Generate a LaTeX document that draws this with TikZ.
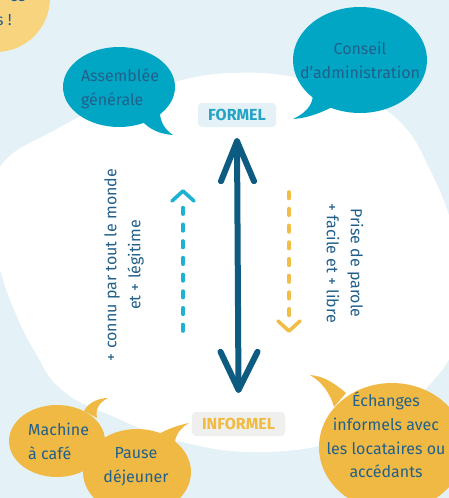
\documentclass[tikz,border=0pt]{standalone}
\usepackage{fontspec}
\setmainfont{Fira Sans}
\usetikzlibrary{shapes.geometric,calc}
\definecolor{bgblue}{HTML}{E4F1F6}
\definecolor{bubteal}{HTML}{02A6C5}
\definecolor{bubyellow}{HTML}{F0B944}
\definecolor{paleyellow}{HTML}{F9D47F}
\definecolor{darkarrow}{HTML}{0D5B80}
\definecolor{tealarrow}{HTML}{1EB2D2}
\definecolor{yelarrow}{HTML}{F2BD47}
\definecolor{txtblue}{HTML}{21608A}
\definecolor{formelbg}{HTML}{E4F1F6}
\definecolor{formeltxt}{HTML}{23A3C6}
\definecolor{informelbg}{HTML}{EFEFEE}
\definecolor{informeltxt}{HTML}{F1BA40}
\begin{document}
\begin{tikzpicture}[x=1pt,y=-1pt,
  bubshape/.style={ellipse, inner sep=0pt},
  bubtext/.style={inner sep=0pt, text=txtblue, font=\fontsize{16}{24}\selectfont},
  tag/.style={rounded corners=4pt, inner sep=0pt, minimum height=24pt, font=\bfseries\fontsize{16}{16}\selectfont},
  mainarrow/.style={draw=darkarrow, line width=6pt, line cap=round, line join=round},
  tealarr/.style={draw=tealarrow, line width=3.6pt, line cap=round, line join=round},
  yelarr/.style={draw=yelarrow, line width=3.6pt, line cap=round, line join=round},
  dashpat/.style={dash pattern=on 6.5pt off 10.2pt}]
\useasboundingbox (0,0) rectangle (449,498);
\clip (0,0) rectangle (449,498);
\fill[bgblue] (0,0) rectangle (449,498);
% top-left pale yellow circle
\fill[paleyellow] (-4,-2) circle[radius=54pt];
\node[bubtext, anchor=base east] (cornertop) at (26,1) {es};
\node[bubtext, anchor=base east] (cornerbot) at (12,25) {s !};
% white blob
\fill[white] plot[smooth cycle, tension=0.75] coordinates {
  (-14,215) (2,164) (55,130) (110,103) (170,83) (232,73) (300,78) (360,97)
  (402,124) (430,170) (452,225) (466,290) (455,345) (432,382) (398,410)
  (340,440) (262,452) (182,442) (112,416) (62,390) (34,350) (15,312) (0,270)};
% labels
\node[tag, fill=formelbg, text=formeltxt, minimum width=78pt] (formel) at (237,115) {FORMEL};
\node[tag, fill=informelbg, text=informeltxt, minimum width=93pt] (informel) at (238.5,424) {INFORMEL};
% main double arrow
\coordinate (mtop) at ($(formel.south)+(0,14)$);
\coordinate (mbot) at ($(informel.north)+(0,-22)$);
\draw[mainarrow] (mtop) -- (mbot);
\draw[mainarrow] ($(mtop)+(-16,40)$) -- (mtop) -- ($(mtop)+(17,40)$);
\draw[mainarrow] ($(mbot)+(-18,-38)$) -- (mbot) -- ($(mbot)+(19,-38)$);
% teal dashed arrow (up)
\coordinate (tbot) at (183,331);
\coordinate (ttop) at (183,191);
\draw[tealarr, dashpat] (tbot) -- ($(ttop)+(0,12)$);
\draw[tealarr] ($(ttop)+(-11,10)$) -- (ttop) -- ($(ttop)+(11,10)$);
% yellow dashed arrow (down)
\coordinate (ytop) at (289,192);
\coordinate (ybot) at (289,331);
\draw[yelarr, dashpat] (ytop) -- ($(ybot)+(0,-12)$);
\draw[yelarr] ($(ybot)+(-11,-10)$) -- (ybot) -- ($(ybot)+(11,-10)$);
% rotated texts
\node[bubtext, rotate=90, align=center] (lefttxt) at (124,265) {+ connu par tout le monde\\et + légitime};
\node[bubtext, rotate=-90, align=center] (righttxt) at (345,263) {Prise de parole\\+ facile et + libre};
% teal bubbles
\node[bubshape, fill=bubteal, minimum width=112pt, minimum height=80pt] (agshape) at (119,87) {};
\fill[bubteal] (141,120) .. controls (150,130) and (160,134) .. (173,135)
  .. controls (164,129) and (160,121) .. (160,112) -- cycle;
\node[bubtext, align=left] (agtext) at (120,89) {Assemblée\\générale};
\node[bubshape, fill=bubteal, minimum width=134pt, minimum height=106pt] (cashape) at (360,60) {};
\fill[bubteal] (313,94) .. controls (313,106) and (304,114) .. (293,119)
  .. controls (308,118) and (321,113) .. (336,105) -- cycle;
\node[bubtext, align=center] (catext) at (360,60) {Conseil\\d’administration};
% yellow bubbles
\node[bubshape, fill=bubyellow, minimum width=96pt, minimum height=72pt] (mcshape) at (57,441) {};
\fill[bubyellow] (84,411) .. controls (88,403) and (98,398) .. (108,398)
  .. controls (100,402) and (95,408) .. (97,418) -- cycle;
\node[bubtext, align=left, anchor=west] (mctext) at (28,441) {Machine\\à café};
\node[bubshape, fill=bubyellow, minimum width=108pt, minimum height=86pt] (pdshape) at (137,472) {};
\fill[bubyellow] (157,435) .. controls (167,429) and (179,425) .. (189,423)
  .. controls (182,427) and (177,432) .. (175,441) -- cycle;
\node[bubtext, align=center] (pdtext) at (136,467) {Pause\\déjeuner};
\node[bubshape, fill=bubyellow, minimum width=146pt, minimum height=128pt] (ecshape) at (392,447) {};
\fill[bubyellow] (310,375) .. controls (322,376) and (332,381) .. (346,393)
  -- (334,407) .. controls (330,393) and (322,382) .. (310,375) -- cycle;
\node[bubtext, align=center, font=\fontsize{16}{23.7}\selectfont] (ectext) at (386,435) {Échanges\\informels avec\\les locataires ou\\accédants};
\end{tikzpicture}
\end{document}
